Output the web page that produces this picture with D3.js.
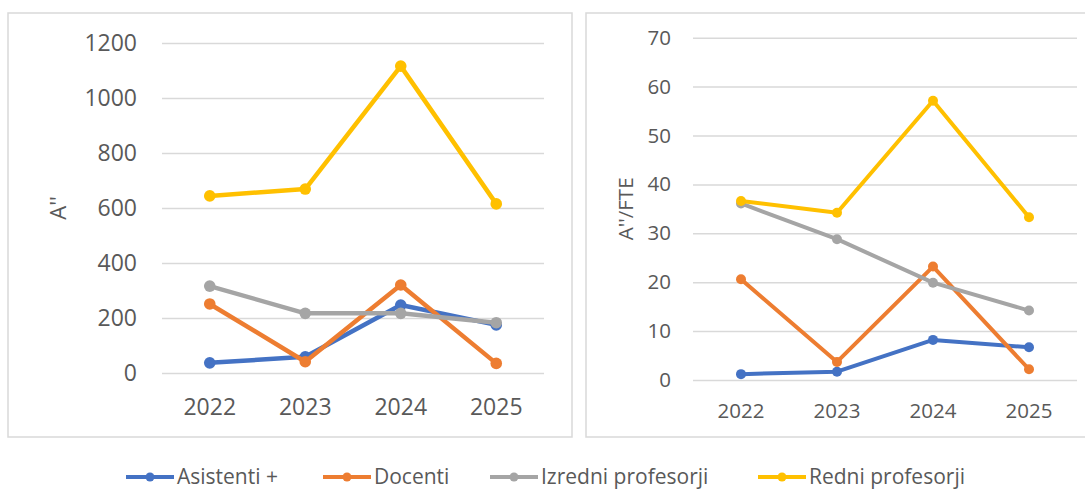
<!DOCTYPE html>
<html>
<head>
<meta charset="utf-8">
<script src="https://cdn.jsdelivr.net/npm/d3@7"></script>
<style>
  html, body { margin: 0; padding: 0; background: #fff; }
  svg { display: block; font-family: "Open Sans", sans-serif; }
</style>
</head>
<body>
<svg id="chart" width="1085" height="489"></svg>
<script>
// ---- data ----
const years = ["2022", "2023", "2024", "2025"];
const seriesNames = ["Asistenti +", "Docenti", "Izredni profesorji", "Redni profesorji"];
const seriesColors = ["#4472C4", "#ED7D31", "#A5A5A5", "#FFC000"];

// Left chart: A''
const leftAsistenti = [37, 59, 247, 175];
const leftDocenti = [251, 41, 320, 35];
const leftIzredni = [316, 217, 217, 183];
const leftRedni = [644, 669, 1116, 615];
const leftTicks = [0, 200, 400, 600, 800, 1000, 1200];

// Right chart: A''/FTE
const rightAsistenti = [1.2, 1.7, 8.2, 6.7];
const rightDocenti = [20.6, 3.7, 23.2, 2.2];
const rightIzredni = [36.1, 28.8, 19.9, 14.2];
const rightRedni = [36.6, 34.2, 57.1, 33.3];
const rightTicks = [0, 10, 20, 30, 40, 50, 60, 70];

const svg = d3.select("#chart");
const textColor = "#595959";
const gridColor = "#D9D9D9";

function drawPanel(cfg) {
  const g = svg.append("g");
  // frame
  g.append("rect")
    .attr("x", cfg.box[0]).attr("y", cfg.box[1])
    .attr("width", cfg.box[2]).attr("height", cfg.box[3])
    .attr("fill", "#fff").attr("stroke", gridColor).attr("stroke-width", 1.5);

  const x = d3.scaleBand().domain(years).range([cfg.x0, cfg.x1]).padding(0);
  const y = d3.scaleLinear().domain([0, cfg.ticks[cfg.ticks.length - 1]]).range([cfg.y0, cfg.y1]);

  // gridlines + y labels
  const yAxis = d3.axisLeft(y).tickValues(cfg.ticks).tickFormat(d3.format("d"))
    .tickSize(-(cfg.x1 - cfg.x0)).tickPadding(cfg.x0 - cfg.labelRight);
  const ya = g.append("g").attr("transform", `translate(${cfg.x0},0)`).call(yAxis);
  ya.select(".domain").remove();
  ya.selectAll(".tick line").attr("stroke", gridColor).attr("stroke-width", 1.5);
  ya.selectAll(".tick text").attr("fill", textColor).style("font-size", cfg.fontSize + "px")
    .style("font-family", "'Open Sans', sans-serif");

  // x labels
  const xAxis = d3.axisBottom(x).tickSize(0).tickPadding(0);
  const xa = g.append("g").attr("transform", `translate(0,${cfg.y0})`).call(xAxis);
  xa.select(".domain").remove();
  xa.selectAll(".tick text").attr("fill", textColor).attr("dy", null)
    .attr("y", cfg.xLabelBaseline - cfg.y0)
    .style("font-size", cfg.fontSize + "px")
    .style("font-family", "'Open Sans', sans-serif");

  // axis title
  g.append("text")
    .attr("transform", `translate(${cfg.titleX},${(cfg.y0 + cfg.y1) / 2}) rotate(-90)`)
    .attr("text-anchor", "middle").attr("dy", "0.35em")
    .attr("fill", textColor).style("font-size", cfg.titleSize + "px")
    .text(cfg.title);

  const line = d3.line().x((d, i) => x(years[i]) + x.bandwidth() / 2).y(d => y(d));
  cfg.series.forEach((vals, si) => {
    g.append("path").datum(vals)
      .attr("d", line).attr("fill", "none")
      .attr("stroke", seriesColors[si]).attr("stroke-width", cfg.lineWidth)
      .attr("stroke-linejoin", "round").attr("stroke-linecap", "round");
    g.selectAll(null).data(vals).enter().append("circle")
      .attr("cx", (d, i) => x(years[i]) + x.bandwidth() / 2)
      .attr("cy", d => y(d))
      .attr("r", cfg.markerR)
      .attr("fill", seriesColors[si]);
  });
}

drawPanel({
  box: [8, 13, 564, 424],
  x0: 162, x1: 544, y0: 373, y1: 43,
  labelRight: 137,
  ticks: leftTicks,
  fontSize: 23,
  xLabelBaseline: 415,
  title: "A''", titleX: 58, titleSize: 22,
  series: [leftAsistenti, leftDocenti, leftIzredni, leftRedni],
  lineWidth: 4.5, markerR: 5.8
});

drawPanel({
  box: [586, 13, 520, 424],
  x0: 693, x1: 1077, y0: 380, y1: 37.7,
  labelRight: 671,
  ticks: rightTicks,
  fontSize: 20.5,
  xLabelBaseline: 418,
  title: "A''/FTE", titleX: 626, titleSize: 20.5,
  series: [rightAsistenti, rightDocenti, rightIzredni, rightRedni],
  lineWidth: 4, markerR: 5
});

// legend
const legendStarts = [126, 323, 490, 758];
const legend = svg.append("g");
seriesNames.forEach((name, i) => {
  const lx = legendStarts[i];
  const it = legend.append("g").attr("transform", `translate(${lx},477)`);
  it.append("line").attr("x1", 0).attr("x2", 48).attr("y1", 0).attr("y2", 0)
    .attr("stroke", seriesColors[i]).attr("stroke-width", 4);
  it.append("circle").attr("cx", 24).attr("cy", 0).attr("r", 4.5).attr("fill", seriesColors[i]);
  it.append("text").attr("x", 51).attr("y", 6.5)
    .attr("fill", textColor).style("font-size", "21px").text(name);
});
</script>
</body>
</html>
